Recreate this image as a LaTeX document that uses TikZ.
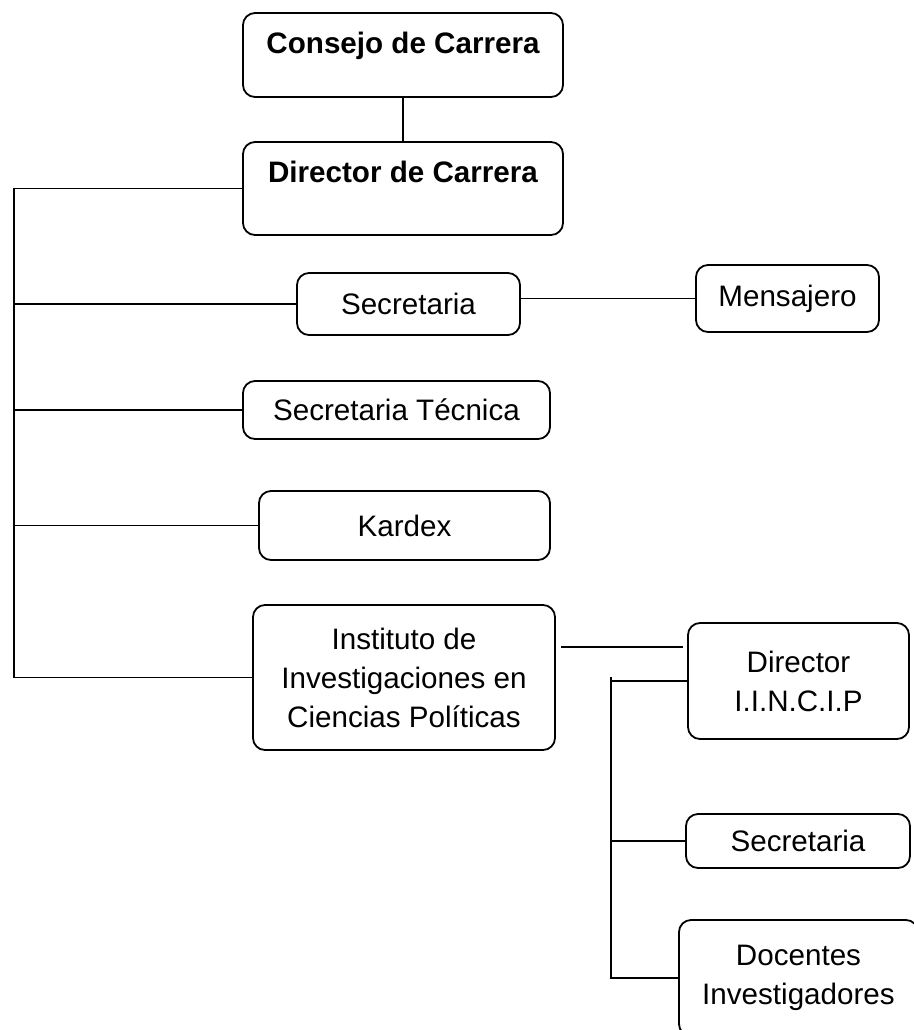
\documentclass[tikz,border=0pt]{standalone}
\usepackage{fontspec}
\setmainfont{Liberation Sans}
\usetikzlibrary{positioning,calc}
\tikzset{every node/.style={font=\fontsize{14.8}{19.5}\selectfont}}
\tikzset{topbox/.style={font=\fontsize{14.8}{19.5}\selectfont\bfseries, text height=11pt}}
\newcommand{\drawbox}{\node[draw, rounded corners=6pt, line width=0.9pt, align=center, inner sep=0]}
\newcommand{\drawdummy}{\coordinate}

\begin{document}
\begin{tikzpicture}[x=0.5pt,y=-0.5pt,line width=0.9pt]
	\useasboundingbox (0,0) rectangle (914,1030);

	\drawbox (consejo) [topbox, text depth=13pt, minimum width=160pt, minimum height=42pt] at (403,55) {Consejo de Carrera};
	\drawbox (dircarrera) [topbox, text depth=17.5pt, minimum width=160pt, minimum height=46.5pt] at (403,188.5) {Director de Carrera};
	\drawbox (secretaria) [minimum width=111.5pt, minimum height=31pt] at (408.5,304) {Secretaria};
	\drawbox (mensajero) [minimum width=91.5pt, minimum height=33.5pt] at (787.5,298.5) {Mensajero};
	\drawbox (sectecnica) [minimum width=153.5pt, minimum height=29pt] at (396.5,410) {Secretaria Técnica};
	\drawbox (kardex) [minimum width=145.5pt, minimum height=34.5pt] at (404.5,525.5) {Kardex};
	\drawbox (instituto) [minimum width=151pt, minimum height=72.5pt] at (404,677.5) {Instituto de\\Investigaciones en\\Ciencias Políticas};
	\drawbox (dirinst) [minimum width=110.5pt, minimum height=58pt] at (798.5,681) {Director\\I.I.N.C.I.P};
	\drawbox (secinst) [minimum width=112pt, minimum height=27pt] at (798,841) {Secretaria};
	\drawbox (docentes) [minimum width=119.5pt, minimum height=58pt] at (798.5,978) {Docentes\\Investigadores};

	\drawdummy (bus) at (14,190);
	\drawdummy (bus2) at (611,677);
	\drawdummy (instR) at (561,647);

	\draw (consejo) -- (dircarrera);
	\draw (dircarrera.west) -- (dircarrera.west -| bus) -- (instituto.west -| bus) -- (instituto.west);
	\draw (secretaria.west) -- (secretaria.west -| bus);
	\draw (sectecnica.west) -- (sectecnica.west -| bus);
	\draw (kardex.west) -- (kardex.west -| bus);
	\draw (mensajero.west) -- (mensajero.west -| secretaria.east);

	\draw[shorten >=2pt] (instR) -- (instR -| dirinst.west);
	\draw (bus2) -- (docentes.west -| bus2) -- (docentes.west);
	\draw (dirinst.west) -- (dirinst.west -| bus2);
	\draw (secinst.west) -- (secinst.west -| bus2);

\end{tikzpicture}
\end{document}
